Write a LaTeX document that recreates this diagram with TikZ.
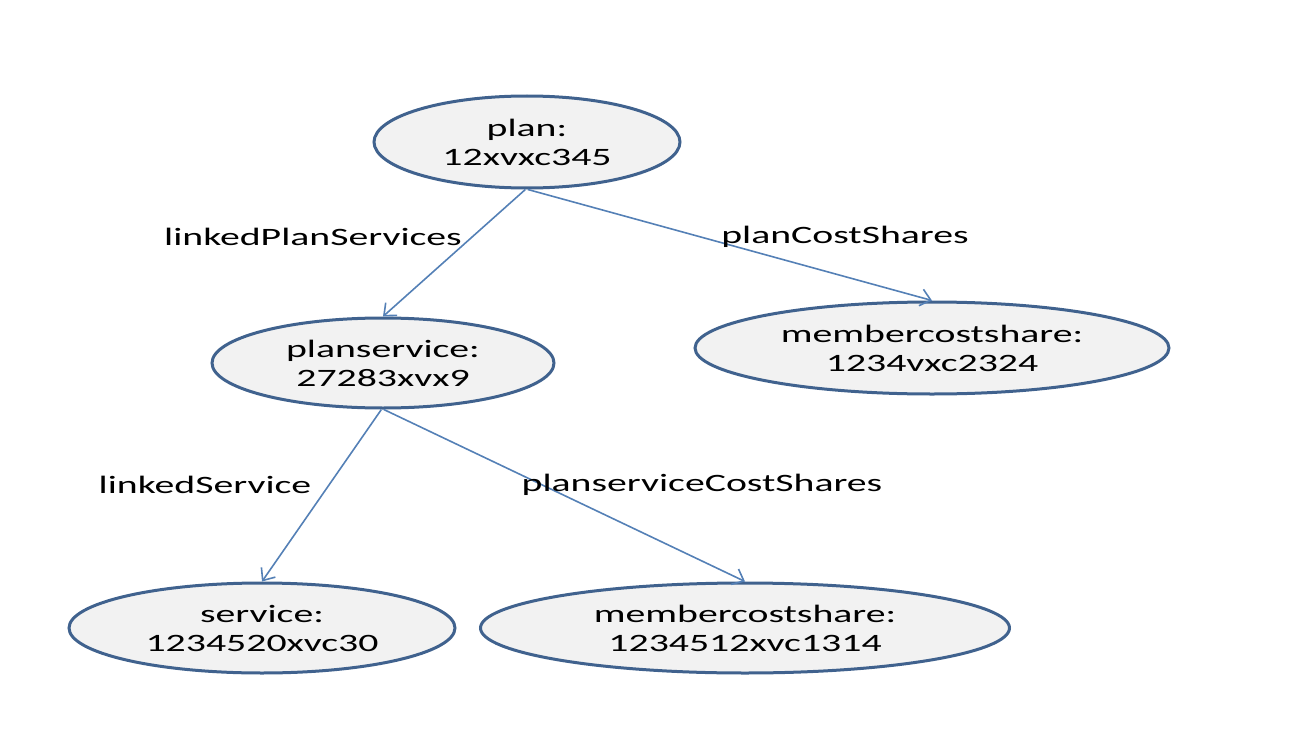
\documentclass[tikz,border=0pt]{standalone}
\usepackage{fontspec}
\setmainfont{Carlito}
\usetikzlibrary{shapes.geometric, arrows.meta, positioning}
\definecolor{ellline}{RGB}{64,98,142}
\definecolor{ellfill}{RGB}{242,242,242}
\definecolor{linkline}{RGB}{84,128,182}
\newcommand{\sx}[1]{\scalebox{1.59}[1]{#1}}

\begin{document}
\begin{tikzpicture}[x=1pt, y=-1pt,
    font=\fontsize{25}{29}\selectfont,
    obj/.style={ellipse, draw=ellline, line width=3pt, fill=ellfill, inner sep=0pt, align=center},
    link/.style={draw=linkline, line width=1.6pt, -{Straight Barb[length=10pt,width=17pt,line width=1.6pt]}}]
    \useasboundingbox (0,0) rectangle (1302,752);

    \node[obj, minimum width=306, minimum height=92] at (527,142) (plan) {\sx{plan:}\\\sx{12xvxc345}};
    \node[obj, minimum width=342, minimum height=90] at (383,363) (pserv) {\sx{planservice:}\\\sx{27283xvx9}};
    \node[obj, minimum width=474, minimum height=92] at (932,348) (mcsA) {\sx{membercostshare:}\\\sx{1234vxc2324}};
    \node[obj, minimum width=386, minimum height=90] at (262,628) (serv) {\sx{service:}\\\sx{1234520xvc30}};
    \node[obj, minimum width=529, minimum height=90] at (745,628) (mcsB) {\sx{membercostshare:}\\\sx{1234512xvc1314}};

    \draw[link] (plan.-92) -- (pserv.north);
    \draw[link] (plan.-89) -- (mcsA.north);
    \draw[link] (pserv.-92) -- (serv.north);
    \draw[link] (pserv.-89) -- (mcsB.north);

    \node at (313,237) (lbl1) {\sx{linkedPlanServices}};
    \node at (845,237) (lbl2) {\sx{planCostShares}};
    \node at (205,485) (lbl3) {\sx{linkedService}};
    \node at (702,485) (lbl4) {\sx{planserviceCostShares}};
\end{tikzpicture}
\end{document}
